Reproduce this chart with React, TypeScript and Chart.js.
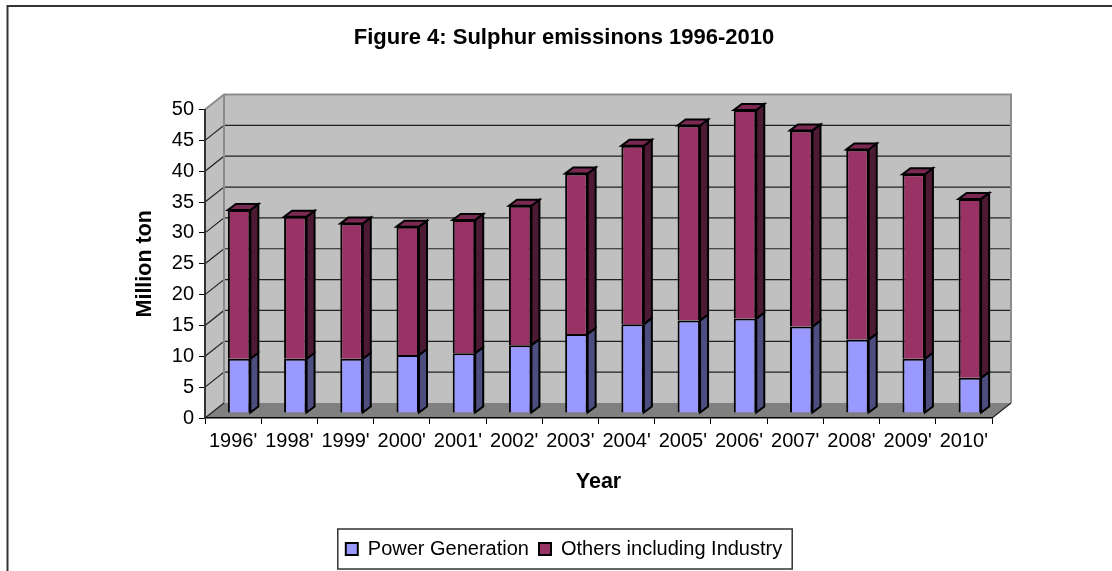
import React, { useEffect, useRef } from "react";
import { Chart, registerables } from "chart.js";

Chart.register(...registerables);

const years = ["1996'", "1998'", "1999'", "2000'", "2001'", "2002'", "2003'", "2004'", "2005'", "2006'", "2007'", "2008'", "2009'", "2010'"];
const powerGeneration = [8.8, 8.8, 8.8, 9.4, 9.7, 11, 12.8, 14.4, 15, 15.3, 14, 11.9, 8.8, 5.7];
const othersIncludingIndustry = [24.1, 23, 21.9, 20.8, 21.6, 22.6, 26, 28.9, 31.6, 33.8, 31.8, 30.8, 29.9, 29];

const FONT = "'Liberation Sans', Arial, sans-serif";
// Oblique projection of the plot box and of each bar's depth.
const WALL_DX = 19;
const WALL_DY = -15;
const BAR_SHIFT_X = 6;
const BAR_SHIFT_Y = -5;
const BAR_DX = 8;
const BAR_DY = -6;

function poly(ctx: CanvasRenderingContext2D, pts: number[][], fill: string | null, stroke: string | null, lw = 1) {
  ctx.beginPath();
  pts.forEach((p, i) => (i ? ctx.lineTo(p[0], p[1]) : ctx.moveTo(p[0], p[1])));
  ctx.closePath();
  if (fill) {
    ctx.fillStyle = fill;
    ctx.fill();
  }
  if (stroke) {
    ctx.strokeStyle = stroke;
    ctx.lineWidth = lw;
    ctx.lineJoin = "miter";
    ctx.stroke();
  }
}

// Frame, back wall, side wall, floor and the depth gridlines behind the bars.
const boxPlugin = {
  id: "box3d",
  beforeDraw(chart: any) {
    const { ctx, chartArea: a, scales } = chart;
    const y = scales.y;
    ctx.save();
    ctx.strokeStyle = "#333";
    ctx.lineWidth = 2;
    ctx.beginPath();
    ctx.moveTo(chart.width, 6);
    ctx.lineTo(7.5, 6);
    ctx.lineTo(7.5, chart.height);
    ctx.stroke();

    const dx = WALL_DX;
    const dy = WALL_DY;
    poly(ctx, [[a.left + dx, a.top + dy], [a.right + dx, a.top + dy], [a.right + dx, a.bottom + dy], [a.left + dx, a.bottom + dy]], "#C0C0C0", null);
    poly(ctx, [[a.left, a.top], [a.left + dx, a.top + dy], [a.left + dx, a.bottom + dy], [a.left, a.bottom]], "#C0C0C0", null);
    poly(ctx, [[a.left, a.bottom], [a.right, a.bottom], [a.right + dx, a.bottom + dy], [a.left + dx, a.bottom + dy]], "#808080", null);

    for (const t of y.ticks) {
      if (t.value === 0 || t.value === 50) continue;
      const py = y.getPixelForValue(t.value);
      ctx.strokeStyle = "#222";
      ctx.lineWidth = 1.2;
      ctx.beginPath();
      ctx.moveTo(a.left, py);
      ctx.lineTo(a.left + dx, py + dy);
      ctx.lineTo(a.right + dx, py + dy);
      ctx.stroke();
    }

    // Wall outline
    ctx.strokeStyle = "#8c8c8c";
    ctx.lineWidth = 2;
    ctx.beginPath();
    ctx.moveTo(a.left, a.top);
    ctx.lineTo(a.left + dx, a.top + dy);
    ctx.lineTo(a.right + dx, a.top + dy);
    ctx.lineTo(a.right + dx, a.bottom + dy);
    ctx.moveTo(a.left + dx, a.top + dy);
    ctx.lineTo(a.left + dx, a.bottom + dy);
    ctx.stroke();

    ctx.strokeStyle = "#222";
    ctx.lineWidth = 1.2;
    ctx.beginPath();
    ctx.moveTo(a.left, a.bottom);
    ctx.lineTo(a.left + dx, a.bottom + dy);
    ctx.moveTo(a.right, a.bottom);
    ctx.lineTo(a.right + dx, a.bottom + dy);
    ctx.stroke();
    ctx.restore();
  },
  // Side and top faces come first, then the library paints the front faces
  // shifted onto the same depth plane.
  beforeDatasetsDraw(chart: any) {
    const { ctx } = chart;
    ctx.save();
    ctx.translate(BAR_SHIFT_X, BAR_SHIFT_Y);
    const last = chart.data.datasets.length - 1;
    chart.data.datasets.forEach((ds: any, di: number) => {
      chart.getDatasetMeta(di).data.forEach((bar: any) => {
        const p = bar.getProps(["x", "y", "base", "width"]);
        const l = p.x - p.width / 2;
        const r = p.x + p.width / 2;
        poly(ctx, [[r, p.y], [r + BAR_DX, p.y + BAR_DY], [r + BAR_DX, p.base + BAR_DY], [r, p.base]], ds.sideColor, "#000", 2);
        if (di === last) {
          poly(ctx, [[l, p.y], [l + BAR_DX, p.y + BAR_DY], [r + BAR_DX, p.y + BAR_DY], [r, p.y]], ds.topColor, "#000", 2);
        }
      });
    });
  },
  afterDatasetsDraw(chart: any) {
    chart.ctx.restore();
  },
  // Border round the legend entries.
  afterDraw(chart: any) {
    const { ctx, legend } = chart;
    const boxes = legend.legendHitBoxes;
    const left = boxes[0].left - 8;
    const right = boxes[boxes.length - 1].left + boxes[boxes.length - 1].width + 10;
    ctx.save();
    ctx.strokeStyle = "#333";
    ctx.lineWidth = 1.5;
    ctx.strokeRect(left, legend.top, right - left, legend.height);
    ctx.restore();
  },
};

export default function App() {
  const ref = useRef<HTMLCanvasElement>(null);
  useEffect(() => {
    document.body.style.margin = "0";
    const chart = new Chart(ref.current!, {
      type: "bar",
      data: {
        labels: years,
        datasets: [
          {
            label: "Power Generation",
            data: powerGeneration,
            backgroundColor: "#9999FF",
            borderColor: "#000",
            borderWidth: 2,
            sideColor: "#4D4D80",
            topColor: "#7A7ACC",
            clip: false,
          } as any,
          {
            label: "Others including Industry",
            data: othersIncludingIndustry,
            backgroundColor: "#993366",
            borderColor: "#000",
            borderWidth: 2,
            sideColor: "#4D1A33",
            topColor: "#7A2952",
            clip: false,
          } as any,
        ],
      },
      options: {
        animation: false,
        responsive: false,
        layout: { padding: { left: 136, right: 120, top: 0, bottom: 2 } },
        datasets: { bar: { barPercentage: 0.4, categoryPercentage: 1 } },
        plugins: {
          title: {
            display: true,
            text: "Figure 4: Sulphur emissinons 1996-2010",
            color: "#000",
            font: { family: FONT, size: 22, weight: "bold" },
            padding: { top: 24.5, bottom: 58.6 },
          },
          legend: {
            position: "bottom",
            labels: {
              color: "#000",
              font: { family: FONT, size: 20 },
              boxWidth: 12,
              boxHeight: 12,
              padding: 10,
            },
          },
          tooltip: { enabled: false },
        },
        scales: {
          x: {
            stacked: true,
            grid: { drawOnChartArea: false, color: "#000", tickColor: "#000", tickLength: 6, offset: true },
            border: { color: "#000", width: 1.5 },
            ticks: { color: "#000", font: { family: FONT, size: 20 }, padding: 5, maxRotation: 0, autoSkip: false },
            title: {
              display: true,
              text: "Year",
              color: "#000",
              font: { family: FONT, size: 21.5, weight: "bold" },
              padding: { top: 10, bottom: 34 },
            },
            afterFit: (s: any) => {
              s.height = 111;
            },
          },
          y: {
            stacked: true,
            min: 0,
            max: 50,
            grid: { drawOnChartArea: false, color: "#000", tickColor: "#000", tickLength: 6 },
            border: { color: "#333", width: 2 },
            ticks: { stepSize: 5, color: "#000", font: { family: FONT, size: 20 }, padding: 5 },
            title: {
              display: true,
              text: "Million ton",
              color: "#000",
              font: { family: FONT, size: 21.5, weight: "bold" },
              padding: { top: -3.5, bottom: 0 },
            },
            afterFit: (s: any) => {
              s.width = 69;
            },
          },
        },
      },
      plugins: [boxPlugin],
    } as any);
    return () => chart.destroy();
  }, []);
  return <canvas ref={ref} width={1112} height={571} style={{ display: "block" }} />;
}
